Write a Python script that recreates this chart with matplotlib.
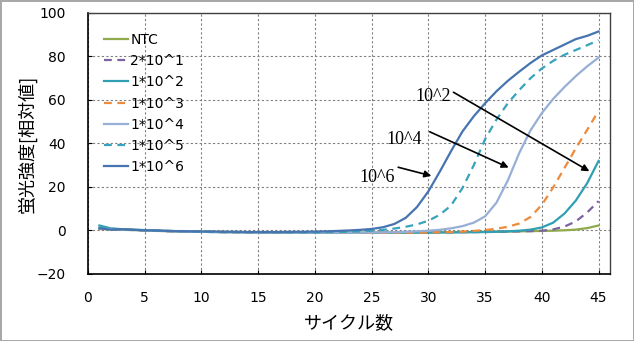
import matplotlib.pyplot as plt

plt.rcParams['font.family'] = ['DejaVu Sans', 'Noto Sans CJK JP']

cycles = list(range(1, 46))

# fluorescence readings per dilution (relative units)
ntc = [0.8, 0.5, 0.3, 0.2, 0.0, -0.2, -0.3, -0.4, -0.5, -0.6, -0.6, -0.7, -0.7, -0.8, -0.8,
       -0.8, -0.9, -0.9, -0.9, -1.0, -1.0, -1.0, -1.0, -1.0, -1.0, -1.0, -1.0, -0.9, -0.9, -0.9,
       -0.8, -0.8, -0.7, -0.7, -0.6, -0.5, -0.5, -0.4, -0.3, -0.2, -0.1, 0.1, 0.4, 1.1, 2.3]
e2x1 = [1.2, 0.6, 0.4, 0.2, 0.1, -0.1, -0.3, -0.4, -0.5, -0.6, -0.7, -0.7, -0.8, -0.8, -0.9,
        -0.9, -1.0, -1.0, -1.0, -1.1, -1.1, -1.1, -1.1, -1.1, -1.0, -1.0, -1.0, -1.0, -0.9, -0.9,
        -0.9, -0.8, -0.8, -0.7, -0.7, -0.6, -0.5, -0.4, -0.3, -0.1, 0.5, 1.8, 4.2, 8.3, 13.5]
e1x2 = [2.3, 1.0, 0.6, 0.4, 0.2, 0.0, -0.2, -0.4, -0.5, -0.6, -0.7, -0.8, -0.8, -0.9, -0.9,
        -1.0, -1.0, -1.0, -1.1, -1.1, -1.1, -1.1, -1.1, -1.1, -1.1, -1.0, -1.0, -1.0, -1.0, -1.0,
        -0.9, -0.9, -0.8, -0.8, -0.7, -0.6, -0.4, -0.1, 0.4, 1.4, 3.6, 7.8, 13.8, 21.8, 32.0]
e1x3 = [0.6, 0.8, 0.4, 0.3, 0.1, -0.1, -0.2, -0.4, -0.5, -0.6, -0.6, -0.7, -0.8, -0.8, -0.9,
        -0.9, -1.0, -1.0, -1.0, -1.0, -1.1, -1.1, -1.1, -1.1, -1.1, -1.1, -1.0, -1.0, -1.0, -0.9,
        -0.8, -0.7, -0.5, -0.2, 0.2, 0.8, 1.7, 3.2, 6.2, 11.8, 19.8, 28.8, 37.8, 46.3, 55.0]
e1x4 = [0.9, 0.7, 0.5, 0.3, 0.1, -0.1, -0.3, -0.4, -0.5, -0.6, -0.7, -0.7, -0.8, -0.8, -0.9,
        -0.9, -0.9, -1.0, -1.0, -1.0, -1.0, -1.0, -1.0, -1.0, -0.9, -0.9, -0.8, -0.6, -0.4, -0.1,
        0.3, 1.0, 2.0, 3.6, 6.5, 12.8, 23.0, 35.5, 46.0, 54.0, 60.5, 66.0, 71.0, 75.5, 79.5]
e1x5 = [1.5, 0.7, 0.5, 0.3, 0.1, -0.1, -0.2, -0.3, -0.4, -0.5, -0.6, -0.7, -0.7, -0.8, -0.8,
        -0.8, -0.9, -0.9, -0.9, -0.9, -0.8, -0.7, -0.6, -0.4, -0.1, 0.3, 0.9, 1.7, 2.8, 4.5,
        7.2, 11.5, 19.5, 30.0, 42.0, 51.0, 58.5, 64.5, 70.0, 74.5, 78.0, 80.8, 83.0, 85.2, 87.5]
e1x6 = [1.0, 0.4, 0.6, 0.3, 0.1, 0.0, -0.2, -0.3, -0.4, -0.5, -0.5, -0.6, -0.6, -0.7, -0.7,
        -0.7, -0.7, -0.6, -0.6, -0.5, -0.4, -0.2, 0.0, 0.3, 0.7, 1.5, 3.0, 5.8, 10.8, 18.0,
        27.0, 36.5, 45.5, 52.5, 58.5, 64.0, 68.8, 73.0, 77.0, 80.5, 83.0, 85.5, 88.0, 89.5, 91.5]

labels = ['NTC', '2*10^1', '1*10^2', '1*10^3', '1*10^4', '1*10^5', '1*10^6']
series = [ntc, e2x1, e1x2, e1x3, e1x4, e1x5, e1x6]
colors = ['#8FA94C', '#7B62A0', '#2F9FB3', '#EE8A3C', '#97AFD6', '#37A3BC', '#4674B0']
dashed = [False, True, False, True, False, True, False]

fig = plt.figure(figsize=(6.34, 3.41), dpi=100)
fig.patch.set_edgecolor('#A8A8A8')
fig.patch.set_linewidth(2)
ax = fig.add_axes([0.1388, 0.1965, 0.8232, 0.7654])

for y, lab, c, d in zip(series, labels, colors, dashed):
    if d:
        ax.plot(cycles, y, color=c, lw=1.6, ls=(0, (3.5, 2.5)), label=lab)
    else:
        ax.plot(cycles, y, color=c, lw=1.6, label=lab)

ax.set_xlim(0, 46)
ax.set_ylim(-20, 100)
ax.set_xticks(range(0, 46, 5))
ax.set_yticks(range(-20, 101, 20))
ax.grid(True, color='#808080', ls=(0, (2, 2)), lw=0.8)
ax.tick_params(direction='in', length=3, labelsize=10)
ax.tick_params(axis='y', pad=16)
ax.tick_params(axis='x', pad=12)
for s in ['left', 'bottom']:
    ax.spines[s].set_color('black')
    ax.spines[s].set_linewidth(1.2)
for s in ['top', 'right']:
    ax.spines[s].set_color('#404040')
    ax.spines[s].set_linewidth(1.0)

ax.set_xlabel('サイクル数', fontsize=13, family=['Noto Sans CJK JP'], labelpad=7)
ax.set_ylabel('蛍光強度[相対値]', fontsize=13, family=['Noto Sans CJK JP'], labelpad=0)

leg = ax.legend(loc='upper left', bbox_to_anchor=(0.02, 0.945), frameon=False, fontsize=10,
                handlelength=1.7, handletextpad=0.2, labelspacing=0.52, borderaxespad=0)

# arrows pointing each dilution label to its curve
notes = [('10^2', (30.4, 61.5), (32.0, 64.2), (44.4, 26.6)),
         ('10^4', (27.9, 42.0), (29.9, 45.9), (37.3, 28.4)),
         ('10^6', (25.5, 24.3), (27.1, 29.4), (30.5, 24.8))]
for txt, tpos, tail, tip in notes:
    ax.text(tpos[0], tpos[1], txt, ha='center', va='center', fontsize=13, family='Liberation Serif')
    ax.annotate('', xy=tip, xytext=tail,
                arrowprops=dict(arrowstyle='-|>', color='black', lw=1.2, mutation_scale=10))

fig.savefig('out.png', dpi=100, edgecolor=fig.get_edgecolor())
